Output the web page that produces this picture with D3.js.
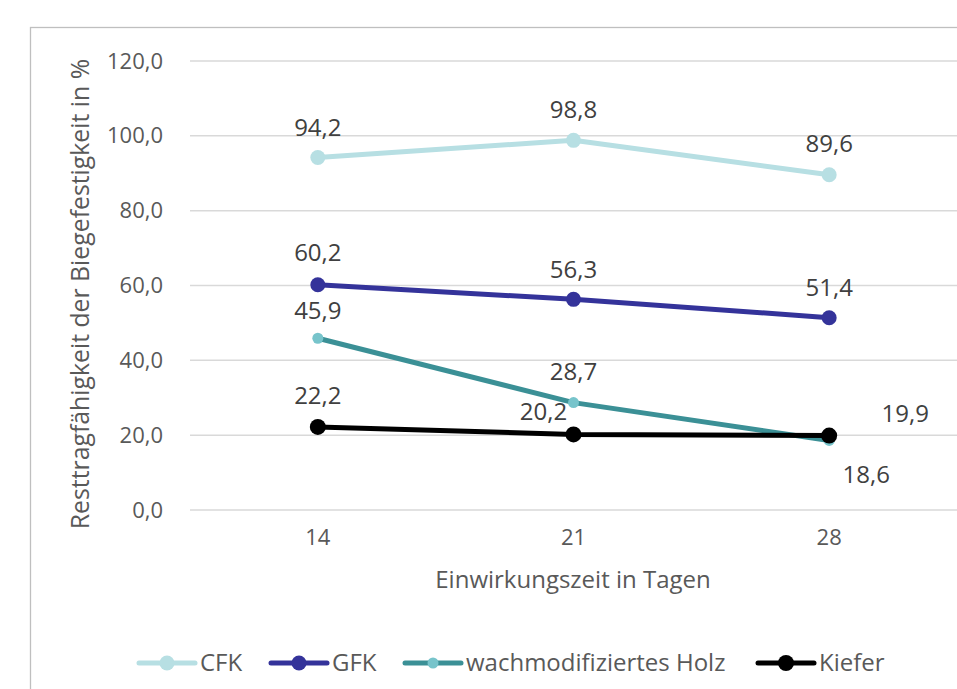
<!DOCTYPE html>
<html>
<head>
<meta charset="utf-8">
<script src="https://cdn.jsdelivr.net/npm/d3@7"></script>
<style>
  body { margin: 0; background: #fff; }
  svg text { font-family: "Open Sans", sans-serif; }
</style>
</head>
<body>
<svg id="chart" width="957" height="689"></svg>
<script>
// Data
var days = ["14", "21", "28"];
var seriesNames = ["CFK", "GFK", "wachmodifiziertes Holz", "Kiefer"];
var cfkValues = [94.2, 98.8, 89.6];
var gfkValues = [60.2, 56.3, 51.4];
var holzValues = [45.9, 28.7, 18.6];
var kieferValues = [22.2, 20.2, 19.9];
var yTicks = [0, 20, 40, 60, 80, 100, 120];

// Look of each series (line colour, marker colour, marker radius)
var styles = [
    { line: "#b7dfe3", dot: "#b7dfe3", r: 7.5 },
    { line: "#34339a", dot: "#34339a", r: 7.5 },
    { line: "#3b9096", dot: "#77c4cb", r: 5.5 },
    { line: "#000000", dot: "#000000", r: 8 }
];
// Data label offsets relative to the point (dx, dy of text centre)
var labelOffsets = [
    [[0, -30], [0, -31], [0, -31]],
    [[0, -32], [0, -30], [0, -30]],
    [[0, -28], [0, -31], [37, 34]],
    [[0, -31], [-30, -23], [76, -22]]
];

var allValues = [cfkValues, gfkValues, holzValues, kieferValues];
var series = seriesNames.map(function (name, i) {
    return { name: name, values: allValues[i], style: styles[i], offsets: labelOffsets[i] };
});

var svg = d3.select('#chart');
var fmt = function (v) { return v.toFixed(1).replace('.', ','); };

// Outer chart border (cut off at right and bottom like the reference)
svg.append('rect')
    .attr('x', 30.5)
    .attr('y', 27.5)
    .attr('width', 1000)
    .attr('height', 1000)
    .style('fill', 'none')
    .style('stroke', '#bfbfbf')
    .style('stroke-width', 1.3);

var x = d3.scaleBand()
    .domain(days)
    .range([190, 957]);
var y = d3.scaleLinear()
    .domain([0, 120])
    .range([510, 61]);

// Gridlines
svg.append('g')
    .selectAll('line')
    .data(yTicks)
    .enter()
  .append('line')
    .attr('x1', 190)
    .attr('x2', 957)
    .attr('y1', function (d) { return y(d); })
    .attr('y2', function (d) { return y(d); })
    .style('stroke', '#d9d9d9')
    .style('stroke-width', 1.5);

// Y axis labels
var yAxis = d3.axisLeft(y)
    .tickValues(yTicks)
    .tickFormat(fmt)
    .tickSize(0)
    .tickPadding(0);
var yG = svg.append('g')
    .attr('transform', 'translate(163, 0)')
    .call(yAxis);
yG.select('.domain').remove();
yG.selectAll('text')
    .attr('fill', '#595959')
    .attr('font-size', 22)
    .style('font-family', '"Open Sans", sans-serif');

// X axis labels
var xAxis = d3.axisBottom(x).tickSize(0).tickPadding(0);
var xG = svg.append('g')
    .attr('transform', 'translate(0, 529)')
    .call(xAxis);
xG.select('.domain').remove();
xG.selectAll('text')
    .attr('fill', '#595959')
    .attr('font-size', 22)
    .style('font-family', '"Open Sans", sans-serif');

// Axis titles
svg.append('text')
    .attr('x', 573)
    .attr('y', 588)
    .attr('text-anchor', 'middle')
    .attr('fill', '#595959')
    .attr('font-size', 24)
    .text('Einwirkungszeit in Tagen');
svg.append('text')
    .attr('transform', 'translate(89, 294) rotate(-90)')
    .attr('text-anchor', 'middle')
    .attr('fill', '#595959')
    .attr('font-size', 24.8)
    .text('Resttragfähigkeit der Biegefestigkeit in %');

// Lines and markers
var xc = function (i) { return x(days[i]) + x.bandwidth() / 2; };
var line = d3.line()
    .x(function (d, i) { return xc(i); })
    .y(function (d) { return y(d); });

var seriesG = svg.append('g')
    .selectAll('g.series')
    .data(series)
    .enter()
  .append('g')
    .attr('class', 'series');

seriesG.append('path')
    .attr('d', function (s) { return line(s.values); })
    .style('fill', 'none')
    .style('stroke', function (s) { return s.style.line; })
    .style('stroke-width', 5)
    .style('stroke-linejoin', 'round')
    .style('stroke-linecap', 'round');

seriesG.selectAll('circle')
    .data(function (s) { return s.values.map(function (v) { return { v: v, s: s }; }); })
    .enter()
  .append('circle')
    .attr('cx', function (d, i) { return xc(i); })
    .attr('cy', function (d) { return y(d.v); })
    .attr('r', function (d) { return d.s.style.r; })
    .style('fill', function (d) { return d.s.style.dot; });

// Data labels
seriesG.selectAll('text')
    .data(function (s) { return s.values.map(function (v, i) { return { v: v, off: s.offsets[i] }; }); })
    .enter()
  .append('text')
    .attr('x', function (d, i) { return xc(i) + d.off[0]; })
    .attr('y', function (d) { return y(d.v) + d.off[1]; })
    .attr('dy', '0.35em')
    .attr('text-anchor', 'middle')
    .attr('fill', '#404040')
    .attr('font-size', 24)
    .text(function (d) { return fmt(d.v); });

// Legend
var legendX = [139, 271, 405, 758];
var legend = svg.append('g')
    .selectAll('g.legend')
    .data(series)
    .enter()
  .append('g')
    .attr('class', 'legend')
    .attr('transform', function (s, i) { return 'translate(' + legendX[i] + ', 663)'; });
legend.append('line')
    .attr('x1', 0)
    .attr('x2', 56)
    .style('stroke', function (s) { return s.style.line; })
    .style('stroke-width', 5)
    .style('stroke-linecap', 'round');
legend.append('circle')
    .attr('cx', 28)
    .attr('r', function (s) { return s.style.r; })
    .style('fill', function (s) { return s.style.dot; });
legend.append('text')
    .attr('x', 61)
    .attr('dy', '0.35em')
    .attr('fill', '#595959')
    .attr('font-size', 24)
    .text(function (s) { return s.name; });
</script>
</body>
</html>
